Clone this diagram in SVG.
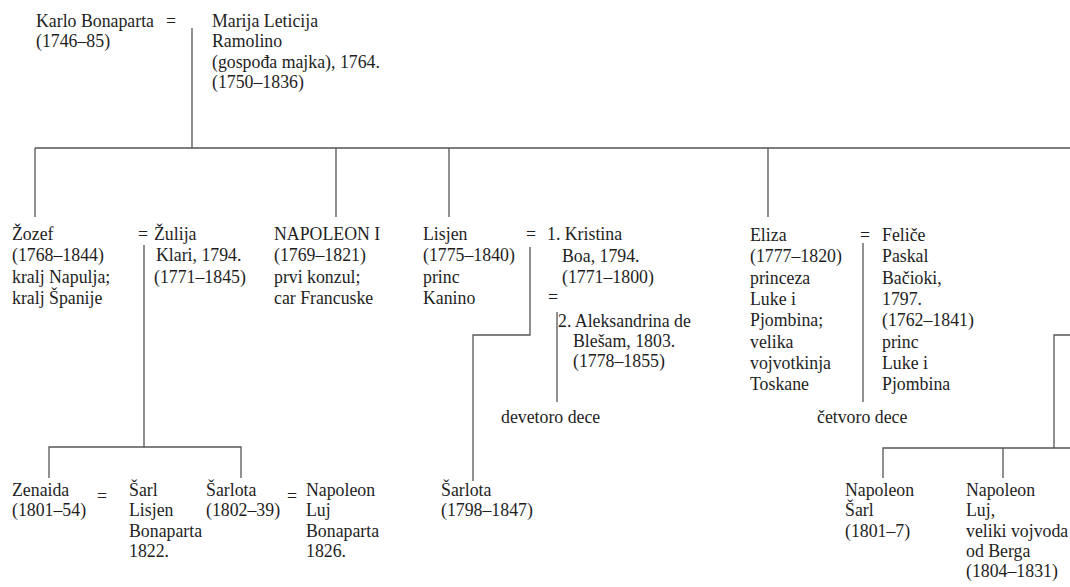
<svg xmlns="http://www.w3.org/2000/svg" width="1070" height="587" viewBox="0 0 1070 587">
<style>
.c path{fill:none;stroke:#555;stroke-width:1.3}
</style>
<rect width="1070" height="587" fill="#fff"/>
<g class="c" id="connectors">
<path d="M192 28V148M35 148H1070M35 148V217M336 148V217M449 148V217M768 148V217"/>
<path d="M144 245V447M49 478V447H241V478"/>
<path d="M530 247V335H473V481"/>
<path d="M557 312V402"/>
<path d="M863 243V402"/>
<path d="M1070 335H1054V448M883 478V448H1070M1003 448V478"/>
</g>
<g font-family="'Liberation Serif', 'Times New Roman', 'DejaVu Serif', serif" font-size="17.8" fill="#1e1e1e">
<g id="karlo"><text x="36" y="27">Karlo Bonaparta</text><text x="166" y="27">=</text><text x="36" y="47">(1746–85)</text></g>
<g id="marija"><text><tspan x="212" y="27">Marija Leticija</tspan><tspan x="212" y="47">Ramolino</tspan><tspan x="212" y="67.5">(gospođa majka), 1764.</tspan><tspan x="212" y="88">(1750–1836)</tspan></text></g>
<g id="zozef"><text><tspan x="12" y="240">Žozef</tspan><tspan x="12" y="261.3">(1768–1844)</tspan><tspan x="12" y="282.6">kralj Napulja;</tspan><tspan x="12" y="303.9">kralj Španije</tspan></text></g>
<g id="zulija"><text x="138" y="240">=</text><text><tspan x="154" y="240">Žulija</tspan><tspan x="156" y="261.3">Klari, 1794.</tspan><tspan x="154" y="282.6">(1771–1845)</tspan></text></g>
<g id="napoleon"><text><tspan x="274" y="240">NAPOLEON I</tspan><tspan x="274" y="261.3">(1769–1821)</tspan><tspan x="274" y="282.6">prvi konzul;</tspan><tspan x="274" y="303.9">car Francuske</tspan></text></g>
<g id="lisjen"><text><tspan x="423" y="240">Lisjen</tspan><tspan x="423" y="261.3">(1775–1840)</tspan><tspan x="423" y="282.6">princ</tspan><tspan x="423" y="303.9">Kanino</tspan></text></g>
<g id="kristina"><text x="526" y="240">=</text><text><tspan x="547" y="240">1. Kristina</tspan><tspan x="562" y="261.5">Boa, 1794.</tspan><tspan x="562" y="283">(1771–1800)</tspan></text></g>
<g id="aleksandrina"><text x="548" y="303">=</text><text><tspan x="558" y="326.5">2. Aleksandrina de</tspan><tspan x="573" y="346.5">Blešam, 1803.</tspan><tspan x="573" y="366.8">(1778–1855)</tspan></text></g>
<g id="devetoro"><text x="501" y="423">devetoro dece</text></g>
<g id="eliza"><text><tspan x="750" y="241">Eliza</tspan><tspan x="750" y="262.3">(1777–1820)</tspan><tspan x="750" y="283.6">princeza</tspan><tspan x="750" y="304.9">Luke i</tspan><tspan x="750" y="326.2">Pjombina;</tspan><tspan x="750" y="347.5">velika</tspan><tspan x="750" y="368.8">vojvotkinja</tspan><tspan x="750" y="390.1">Toskane</tspan></text></g>
<g id="felice"><text x="860" y="241">=</text><text><tspan x="882" y="241">Feliče</tspan><tspan x="882" y="262.3">Paskal</tspan><tspan x="882" y="283.6">Bačioki,</tspan><tspan x="882" y="304.9">1797.</tspan><tspan x="882" y="326.2">(1762–1841)</tspan><tspan x="882" y="347.5">princ</tspan><tspan x="882" y="368.8">Luke i</tspan><tspan x="882" y="390.1">Pjombina</tspan></text></g>
<g id="cetvoro"><text x="817" y="423">četvoro dece</text></g>
<g id="zenaida"><text><tspan x="12" y="496">Zenaida</tspan><tspan x="12" y="516.3">(1801–54)</tspan></text><text x="97" y="502">=</text></g>
<g id="sarl-lisjen"><text><tspan x="129" y="496">Šarl</tspan><tspan x="129" y="516.3">Lisjen</tspan><tspan x="129" y="536.6">Bonaparta</tspan><tspan x="129" y="556.9">1822.</tspan></text></g>
<g id="sarlota1"><text><tspan x="206" y="496">Šarlota</tspan><tspan x="206" y="516.3">(1802–39)</tspan></text><text x="287" y="502">=</text></g>
<g id="napoleon-luj-b"><text><tspan x="306" y="496">Napoleon</tspan><tspan x="306" y="516.3">Luj</tspan><tspan x="306" y="536.6">Bonaparta</tspan><tspan x="306" y="556.9">1826.</tspan></text></g>
<g id="sarlota2"><text><tspan x="441" y="496">Šarlota</tspan><tspan x="441" y="516.3">(1798–1847)</tspan></text></g>
<g id="napoleon-sarl"><text><tspan x="845" y="496">Napoleon</tspan><tspan x="845" y="516.3">Šarl</tspan><tspan x="845" y="536.6">(1801–7)</tspan></text></g>
<g id="napoleon-luj"><text><tspan x="966" y="496">Napoleon</tspan><tspan x="966" y="516.3">Luj,</tspan><tspan x="966" y="536.6">veliki vojvoda</tspan><tspan x="966" y="556.9">od Berga</tspan><tspan x="966" y="577.2">(1804–1831)</tspan></text></g>
</g>
</svg>
